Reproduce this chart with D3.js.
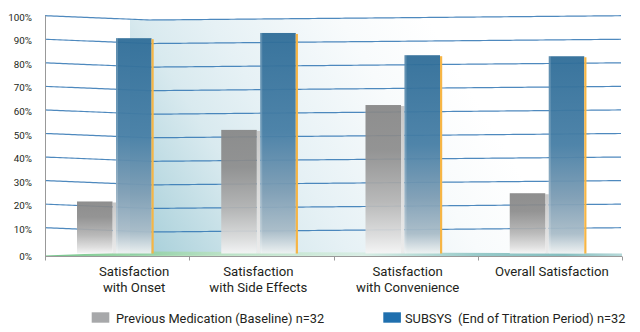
<!DOCTYPE html>
<html>
<head>
<meta charset="utf-8">
<script src="https://cdn.jsdelivr.net/npm/d3@7"></script>
<style>
  body { margin: 0; background: #fff; }
  svg { display: block; }
  text { font-family: Roboto, "Open Sans", sans-serif; fill: #231f20; }
</style>
</head>
<body>
<svg id="chart" width="640" height="332"></svg>
<script>
// ---- data ----
const categories = ["Onset", "Side Effects", "Convenience", "Overall"];
const categoryLabels = [
  ["Satisfaction", "with Onset"],
  ["Satisfaction", "with Side Effects"],
  ["Satisfaction", "with Convenience"],
  ["Overall Satisfaction"]
];
const seriesNames = ["Previous Medication (Baseline) n=32", "SUBSYS  (End of Titration Period) n=32"];
const baselineValues = [22, 53, 63, 25];
const subsysValues = [92, 94, 84, 83];
const yTickValues = [0, 10, 20, 30, 40, 50, 60, 70, 80, 90, 100];

// ---- layout ----
const svg = d3.select("#chart");
const left = 45, right = 622, floorY = 255, axisY = 256.5;

const x0 = d3.scaleBand().domain(categories).range([left, right]).paddingInner(0).paddingOuter(0);
const x1 = d3.scaleBand().domain([0, 1]).range([32, 106.5]).paddingInner(0.09).paddingOuter(0);
// slightly stretched first step gives the floor its perspective
const y = d3.scaleLinear().domain([0, 10, 100]).range([floorY, 227.7, 15.7]);
// gridlines sag a little toward the left-centre of the plot
const sag = d3.scaleLinear().domain([left, 150, right]).range([0, 4.3, 0]).clamp(true);

const defs = svg.append("defs");

// backdrop panel gradient
const pg = defs.append("linearGradient").attr("id", "panelGrad")
  .attr("gradientUnits", "userSpaceOnUse")
  .attr("x1", 150).attr("y1", 255).attr("x2", 459).attr("y2", 70);
[[0, "#a9d0da"], [0.31, "#d9eaef"], [0.48, "#e6f1f5"], [0.79, "#f8fbfc"], [1, "#ffffff"]]
  .forEach(([o, c]) => pg.append("stop").attr("offset", o).attr("stop-color", c));

// floor strip gradient
const fg = defs.append("linearGradient").attr("id", "floorGrad")
  .attr("gradientUnits", "userSpaceOnUse").attr("x1", left).attr("x2", right).attr("y1", 0).attr("y2", 0);
[[0, "#5cbb77"], [0.1, "#7cc98e"], [0.3, "#b7e1bf"], [0.55, "#d5ece1"], [0.75, "#86c1c0"], [0.9, "#70b3b4"], [1, "#a9d2d2"]]
  .forEach(([o, c]) => fg.append("stop").attr("offset", o).attr("stop-color", c));

// bar gradients
const gg = defs.append("linearGradient").attr("id", "grayGrad").attr("x1", 0).attr("x2", 0).attr("y1", 0).attr("y2", 1);
[[0, "#868686"], [0.3, "#8c8c8c"], [0.65, "#b4b4b4"], [0.88, "#dcdcdc"], [1, "#f5f5f5"]]
  .forEach(([o, c]) => gg.append("stop").attr("offset", o).attr("stop-color", c));
const bg = defs.append("linearGradient").attr("id", "blueGrad").attr("x1", 0).attr("x2", 0).attr("y1", 0).attr("y2", 1);
[[0, "#2f6d98"], [0.45, "#467ea5"], [0.72, "#7d9db4"], [0.9, "#a9bcc8"], [1, "#eef2f2"]]
  .forEach(([o, c]) => bg.append("stop").attr("offset", o).attr("stop-color", c));
const sg = defs.append("linearGradient").attr("id", "sideGrad").attr("x1", 0).attr("x2", 0).attr("y1", 0).attr("y2", 1);
[[0, "#c8c8c8"], [1, "#ececec"]]
  .forEach(([o, c]) => sg.append("stop").attr("offset", o).attr("stop-color", c));

// backdrop panel following the top gridline
const panelLeft = 130;
const topPts = d3.range(panelLeft, right + 1, 4).map(px => [px, y(100) + sag(px)]);
svg.append("path")
  .attr("d", d3.line()([...topPts, [right, floorY], [panelLeft, floorY]]) + "Z")
  .attr("fill", "url(#panelGrad)");

// floor
svg.append("path")
  .attr("d", d3.line()([[left, floorY + 0.5], [150, floorY - 3.5], [right, floorY - 1.5], [right, axisY], [left, axisY]]) + "Z")
  .attr("fill", "url(#floorGrad)").attr("opacity", 0.85);

// gridlines
const gridLine = d3.line();
svg.append("g").selectAll("path")
  .data(yTickValues.filter(v => v > 0))
  .join("path")
  .attr("d", v => gridLine(d3.range(left, right + 1, 3).map(px => [px, y(v) + sag(px)])))
  .attr("fill", "none")
  .attr("stroke", "#2f74b3")
  .attr("stroke-width", 1.2)
  .attr("opacity", 0.85);

// bars
const groups = svg.append("g").selectAll("g")
  .data(categories.map((c, i) => ({ c, vals: [baselineValues[i], subsysValues[i]] })))
  .join("g");

groups.each(function (d) {
  const g = d3.select(this);
  d.vals.forEach((v, s) => {
    const bx = x0(d.c) + x1(s);
    const bw = x1.bandwidth();
    const top = y(v) + sag(bx + bw / 2);
    const h = floorY - 1.5 - top;
    if (s === 0) {
      g.append("rect").attr("x", bx + bw).attr("y", top + 1).attr("width", 3.5).attr("height", h - 1)
        .attr("fill", "url(#sideGrad)");
      g.append("rect").attr("x", bx).attr("y", top).attr("width", bw).attr("height", h)
        .attr("fill", "url(#grayGrad)").attr("opacity", 0.93);
    } else {
      g.append("rect").attr("x", bx).attr("y", top).attr("width", bw).attr("height", h)
        .attr("fill", "url(#blueGrad)").attr("opacity", 0.95);
      g.append("rect").attr("x", bx).attr("y", top).attr("width", 2).attr("height", h)
        .attr("fill", "#ffffff").attr("opacity", 0.18);
      g.append("rect").attr("x", bx + bw).attr("y", top + 1).attr("width", 2.2).attr("height", h - 1)
        .attr("fill", "#f6b545");
    }
  });
});

// y axis line and labels
svg.append("line").attr("x1", left + 0.5).attr("x2", left + 0.5).attr("y1", y(100)).attr("y2", axisY)
  .attr("stroke", "#999").attr("stroke-width", 1);
const yAxis = svg.append("g").attr("transform", "translate(32,1.4)")
  .call(d3.axisLeft(y).tickValues(yTickValues).tickSize(0).tickPadding(0).tickFormat(d => d + "%"));
yAxis.select(".domain").remove();
yAxis.selectAll("text").style("font-family", "Roboto, 'Open Sans', sans-serif").style("font-size", "9.8px").attr("fill", "#231f20");

// x axis line and ticks at category boundaries
svg.append("line").attr("x1", left).attr("x2", right).attr("y1", axisY).attr("y2", axisY)
  .attr("stroke", "#999").attr("stroke-width", 1);
const edges = categories.map(c => x0(c)).concat([right]);
svg.append("g").selectAll("line").data(edges).join("line")
  .attr("x1", d => Math.round(d) + 0.5).attr("x2", d => Math.round(d) + 0.5)
  .attr("y1", axisY).attr("y2", axisY + 4)
  .attr("stroke", "#999");

// category labels, one text element per line
const labelNudge = [17, -3, 2, 2];
const labelLines = categories.flatMap((c, i) =>
  categoryLabels[i].map((line, k) => ({ c, i, k, line })));
svg.append("g").selectAll("text")
  .data(labelLines)
  .join("text")
  .attr("text-anchor", "middle")
  .attr("font-size", 13.2)
  .attr("x", d => x0(d.c) + x0.bandwidth() / 2 + labelNudge[d.i])
  .attr("y", d => 276 + d.k * 15.6)
  .text(d => d.line);

// legend
const legendColors = ["#a7a8aa", "#1f6fae"];
const legendX = [91.7, 383.3];
const legend = svg.append("g").selectAll("g").data(seriesNames).join("g")
  .attr("transform", (d, i) => `translate(${legendX[i]},312.3)`);
legend.append("rect").attr("width", 17.6).attr("height", 10.4).attr("fill", (d, i) => legendColors[i]);
legend.append("text").attr("x", (d, i) => i === 0 ? 24.3 : 21.7).attr("y", 10.2)
  .attr("font-size", 12.8).style("white-space", "pre").text(d => d);
</script>
</body>
</html>
